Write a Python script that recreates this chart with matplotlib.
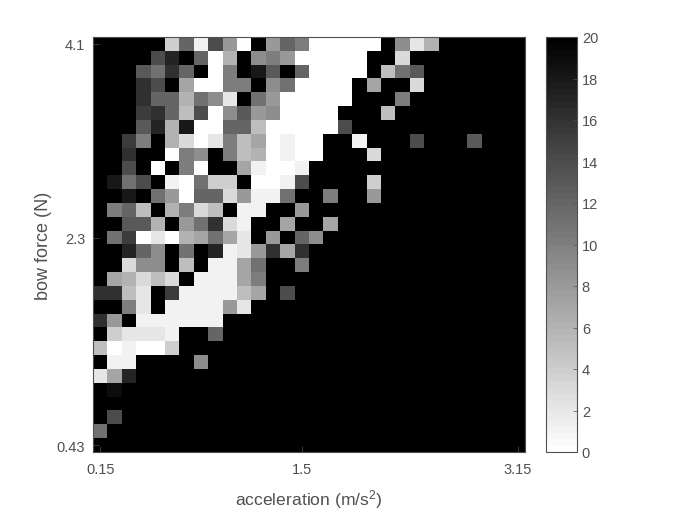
import numpy as np
import matplotlib
matplotlib.use("Agg")
import matplotlib.pyplot as plt

plt.rcParams["font.family"] = ["Liberation Sans", "DejaVu Sans"]
plt.rcParams["mathtext.default"] = "regular"

x_tick_labels = ["0.15", "1.5", "3.15"]
y_tick_labels = ["4.1", "2.3", "0.43"]
cbar_ticks = list(range(0, 21, 2))

# counts per cell, top row first
counts = np.array([
    [20,20,20,20,20, 4,12, 1,14, 8, 0,20, 8,12,10, 0, 0, 0, 0, 0,20, 9, 2, 6,20,20,20,20,20,20],
    [20,20,20,20,14,17,20,12, 0, 6,20, 9,10, 8, 0, 0, 0, 0, 0,20,20, 3,20,20,20,20,20,20,20,20],
    [20,20,20,13,11,16,12,20, 0,10,20,18,13,20,12, 0, 0, 0, 0,20, 5,11,13,20,20,20,20,20,20,20],
    [20,20,20,16,14,20, 7, 0, 0,10,10,20, 9,11, 0, 0, 0, 0,20, 7,20,20, 3,20,20,20,20,20,20,20],
    [20,20,20,16,12,12, 6,11, 9, 2,20,11, 8, 0, 0, 0, 0, 0,20,20,20,10,20,20,20,20,20,20,20,20],
    [20,20,20,15,16,12, 5,14, 0, 9,13, 8, 9, 0, 0, 0, 0,20,20,20, 5,20,20,20,20,20,20,20,20,20],
    [20,20,20,13,17, 6,18, 0, 0,12,12, 5, 0, 0, 0, 0, 0,14,20,20,20,20,20,20,20,20,20,20,20,20],
    [20,20,15,10,20, 6, 3, 0, 2,10, 5, 7, 0, 1, 0, 0,20,20, 1,20,20,20,14,20,20,20,13,20,20,20],
    [20,20,16,20,20, 0,10, 9,20,10, 5, 6, 0, 1, 0, 0,20,20,20, 3,20,20,20,20,20,20,20,20,20,20],
    [20,20,14,20, 0,20,10, 0,20,20, 7, 1, 0, 0, 1,20,20,20,20,20,20,20,20,20,20,20,20,20,20,20],
    [20,18,11,14,20, 1, 0,11, 4, 4,20, 0, 0, 1,14,20,20,20,20, 4,20,20,20,20,20,20,20,20,20,20],
    [20,20,18,20,11, 8, 0,12,12, 3, 8, 1, 1,11,20,20,10,20,20, 8,20,20,20,20,20,20,20,20,20,20],
    [20,10,12, 5,20, 6,10, 3, 5,20, 1, 1,20,20, 8,20,20,20,20,20,20,20,20,20,20,20,20,20,20,20],
    [20,20,13,13, 6,20, 8,11,16, 3, 1,20,20, 7,20,20, 7,20,20,20,20,20,20,20,20,20,20,20,20,20],
    [20,11,15, 0, 2, 0, 6, 7,11, 7, 2,20, 8,20,12, 9,20,20,20,20,20,20,20,20,20,20,20,20,20,20],
    [20,20,17,12, 9,20,11,20,17, 1, 2, 8,16, 7,16,20,20,20,20,20,20,20,20,20,20,20,20,20,20,20],
    [20,20, 3, 9, 9,20, 5,20, 1, 1, 7,11,20,20,10,20,20,20,20,20,20,20,20,20,20,20,20,20,20,20],
    [20, 7, 6, 3, 5, 3,20, 1, 1, 1, 7,10,20,20,20,20,20,20,20,20,20,20,20,20,20,20,20,20,20,20],
    [16,16, 5, 2,20,15, 1, 1, 1, 1, 5, 7,20,14,20,20,20,20,20,20,20,20,20,20,20,20,20,20,20,20],
    [20,20,10, 2,20, 1, 1, 1, 1, 8, 2,20,20,20,20,20,20,20,20,20,20,20,20,20,20,20,20,20,20,20],
    [16, 8,20, 1, 1, 1, 1, 1, 1,20,20,20,20,20,20,20,20,20,20,20,20,20,20,20,20,20,20,20,20,20],
    [20, 4, 2, 2, 2, 1,20,20,12,20,20,20,20,20,20,20,20,20,20,20,20,20,20,20,20,20,20,20,20,20],
    [ 5, 0, 1, 0, 0, 4,20,20,20,20,20,20,20,20,20,20,20,20,20,20,20,20,20,20,20,20,20,20,20,20],
    [20, 1, 1,20,20,20,20, 9,20,20,20,20,20,20,20,20,20,20,20,20,20,20,20,20,20,20,20,20,20,20],
    [ 2, 7,17,20,20,20,20,20,20,20,20,20,20,20,20,20,20,20,20,20,20,20,20,20,20,20,20,20,20,20],
    [20,19,20,20,20,20,20,20,20,20,20,20,20,20,20,20,20,20,20,20,20,20,20,20,20,20,20,20,20,20],
    [20,20,20,20,20,20,20,20,20,20,20,20,20,20,20,20,20,20,20,20,20,20,20,20,20,20,20,20,20,20],
    [20,14,20,20,20,20,20,20,20,20,20,20,20,20,20,20,20,20,20,20,20,20,20,20,20,20,20,20,20,20],
    [11,20,20,20,20,20,20,20,20,20,20,20,20,20,20,20,20,20,20,20,20,20,20,20,20,20,20,20,20,20],
    [20,20,20,20,20,20,20,20,20,20,20,20,20,20,20,20,20,20,20,20,20,20,20,20,20,20,20,20,20,20],
])

W, H = 680, 510
grey = "#505050"

fig = plt.figure(figsize=(W / 100, H / 100), dpi=100)
ax = fig.add_axes([93 / W, 1 - 453 / H, 432 / W, 415 / H])
cax = fig.add_axes([546 / W, 1 - 453 / H, 31 / W, 415 / H])

im = ax.imshow(counts, cmap=plt.get_cmap("gray_r", 64), vmin=0, vmax=20,
               aspect="auto", interpolation="nearest")

ax.set_xticks([0, 14, 29])
ax.set_xticklabels(x_tick_labels)
ax.set_yticks([0, 14, 29])
ax.set_yticklabels(y_tick_labels)
ax.tick_params(direction="in", length=4, width=0.5, color=grey,
               labelcolor=grey, labelsize=10.5, pad=5.5)
ax.tick_params(axis="x", pad=7)
ax.set_xlabel("acceleration (m/s$^2$)", fontsize=12.6, color=grey, labelpad=8.2)
ax.set_ylabel("bow force (N)", fontsize=13, color=grey, labelpad=3.5)
for s in ax.spines.values():
    s.set_color(grey)
    s.set_linewidth(0.8)

cb = fig.colorbar(im, cax=cax, ticks=cbar_ticks)
cb.ax.tick_params(direction="in", length=3, width=0.5, color=grey,
                  labelcolor=grey, labelsize=10.5, pad=3.5)
cb.outline.set_edgecolor(grey)
cb.outline.set_linewidth(0.8)

fig.savefig("out.png", dpi=100)
plt.close(fig)
